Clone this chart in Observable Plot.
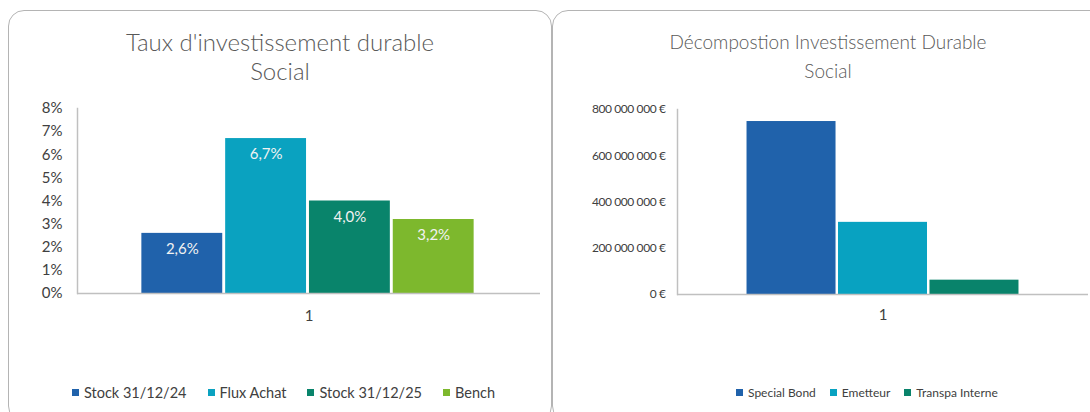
<!DOCTYPE html>
<html>
<head>
<meta charset="utf-8">
<script src="https://cdn.jsdelivr.net/npm/d3@7"></script>
<script src="https://cdn.jsdelivr.net/npm/@observablehq/plot@0.6"></script>
<style>
  html, body { margin: 0; padding: 0; background: #fff; width: 1090px; height: 412px; overflow: hidden; position: relative; font-family: Lato, "Open Sans", sans-serif; }
  .panel { position: absolute; box-sizing: border-box; border: 1px solid #b4b4b4; border-radius: 16px; background: #fff; }
  .title { position: absolute; text-align: center; color: #595959; line-height: 29px; font-weight: 300; }
  .chart { position: absolute; }
  .legend { position: absolute; display: flex; align-items: center; color: #404040; white-space: nowrap; }
  .legend .item { display: flex; align-items: center; }
  .legend .sw { display: inline-block; width: 7px; height: 7px; margin-right: 5px; }
</style>
</head>
<body>
<div class="panel" style="left:8px; top:10px; width:544px; height:412px;"></div>
<div class="panel" style="left:552px; top:10px; width:570px; height:412px;"></div>
<div class="title" id="titleL" style="left:8px; top:27px; width:544px; font-size:24px;"></div>
<div class="title" id="titleR" style="left:552px; top:27px; width:552px; font-size:19px;"></div>
<div class="chart" id="chartL" style="left:8px; top:95px;"></div>
<div class="chart" id="chartR" style="left:552px; top:95px;"></div>
<div class="legend" id="legendL" style="left:72px; top:382px; height:20px; font-size:14.5px;"></div>
<div class="legend" id="legendR" style="left:736px; top:382px; height:20px; font-size:12px;"></div>
<script>
// ---- Left chart data ----
const titleL = ["Taux d'investissement durable", "Social"];
const categoriesL = ["1"];
const seriesL = ["Stock 31/12/24", "Flux Achat", "Stock 31/12/25", "Bench"];
const valuesL = [2.6, 6.7, 4.0, 3.2];
const colorsL = ["#2062ab", "#0aa2c0", "#09846b", "#7db82d"];
const yTicksL = [0, 1, 2, 3, 4, 5, 6, 7, 8];

// ---- Right chart data ----
const titleR = ["Décompostion Investissement Durable", "Social"];
const categoriesR = ["1"];
const seriesR = ["Special Bond", "Emetteur", "Transpa Interne"];
const valuesR = [748000000, 312000000, 62000000];
const colorsR = ["#2062ab", "#08a2c1", "#09836b"];
const yTicksR = [0, 200000000, 400000000, 600000000, 800000000];

const fontStack = "Lato, 'Open Sans', sans-serif";

document.getElementById("titleL").innerHTML = titleL.join("<br>");
document.getElementById("titleR").innerHTML = titleR.join("<br>");

const dataL = seriesL.map((s, i) => ({series: s, value: valuesL[i]}));
const dataR = seriesR.map((s, i) => ({series: s, value: valuesR[i]}));

const pct = v => v.toFixed(1).replace(".", ",") + "%";
const eur = v => d3.format(",")(v).replace(/,/g, " ") + " €";

const plotL = Plot.plot({
  width: 544, height: 238,
  marginLeft: 69, marginRight: 12, marginTop: 13, marginBottom: 40,
  style: {fontFamily: fontStack, fontSize: "15px", color: "#404040", background: "transparent"},
  x: {domain: seriesL, paddingInner: 0.035, paddingOuter: 0.78, round: false, axis: null},
  y: {domain: [0, 8], ticks: yTicksL, tickFormat: d => d + "%", tickSize: 0, tickPadding: 15, label: null},
  color: {domain: seriesL, range: colorsL},
  marks: [
    Plot.barY(dataL, {x: "series", y: "value", fill: "series", dx: -1}),
    Plot.frame({anchor: "left", stroke: "#c0c0c0", strokeWidth: 1.5}),
    Plot.ruleY([0], {stroke: "#c0c0c0", strokeWidth: 1.5}),
    Plot.text(dataL, {x: "series", y: "value", text: d => pct(d.value), dx: -1, dy: 16, fill: "#f2f2f2", fontSize: 15}),
    Plot.text(categoriesL, {text: d => d, frameAnchor: "bottom", dy: 27, fill: "#404040", fontSize: 15})
  ]
});
document.getElementById("chartL").appendChild(plotL);

const plotR = Plot.plot({
  width: 538, height: 239,
  marginLeft: 125, marginRight: 2, marginTop: 14, marginBottom: 40,
  style: {fontFamily: fontStack, fontSize: "12px", color: "#404040", background: "transparent", letterSpacing: "-0.4px"},
  x: {domain: seriesR, paddingInner: 0.027, paddingOuter: 0.76, round: false, axis: null},
  y: {domain: [0, 800000000], ticks: yTicksR, tickFormat: eur, tickSize: 0, tickPadding: 12, label: null},
  color: {domain: seriesR, range: colorsR},
  marks: [
    Plot.barY(dataR, {x: "series", y: "value", fill: "series"}),
    Plot.frame({anchor: "left", stroke: "#c0c0c0", strokeWidth: 1.5}),
    Plot.ruleY([0], {stroke: "#c0c0c0", strokeWidth: 1.5}),
    Plot.text(categoriesR, {text: d => d, frameAnchor: "bottom", dy: 25, fill: "#404040", fontSize: 15})
  ]
});
document.getElementById("chartR").appendChild(plotR);

function legend(id, series, colors, gap) {
  const el = document.getElementById(id);
  series.forEach((s, i) => {
    const it = document.createElement("div");
    it.className = "item";
    if (i > 0) it.style.marginLeft = gap + "px";
    it.innerHTML = `<span class="sw" style="background:${colors[i]}"></span><span>${s}</span>`;
    el.appendChild(it);
  });
}
legend("legendL", seriesL, colorsL, 21);
legend("legendR", seriesR, colorsR, 14);
</script>
</body>
</html>
